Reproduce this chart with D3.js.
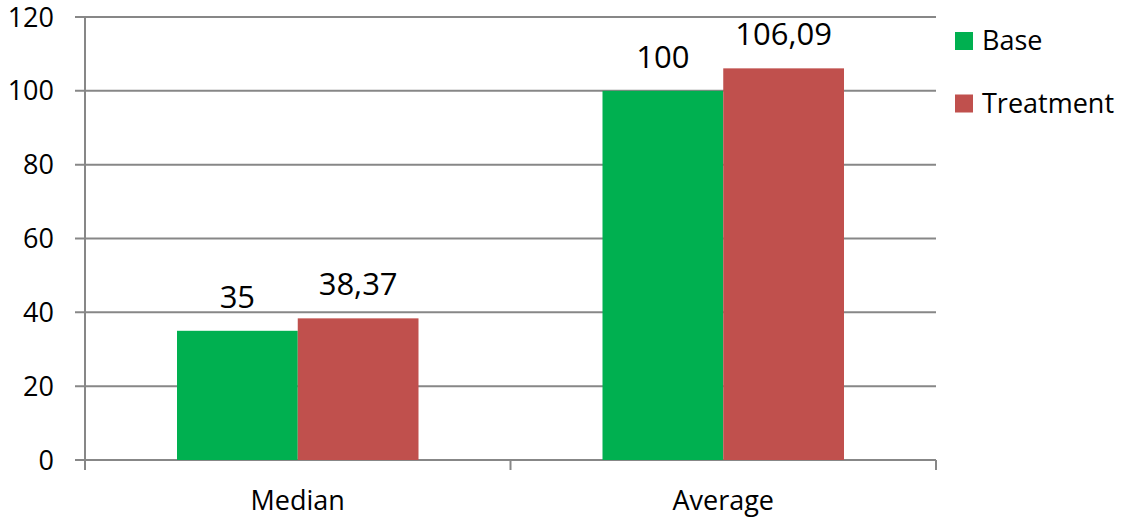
<!DOCTYPE html>
<html>
<head>
<meta charset="utf-8">
<script src="https://cdn.jsdelivr.net/npm/d3@7"></script>
<style>
  body { margin: 0; background: #fff; }
  svg text { font-family: "Open Sans", sans-serif; fill: #000; }
</style>
</head>
<body>
<svg id="chart" width="1125" height="518"></svg>
<script>
const categories = ['Median', 'Average'];
const seriesNames = ['Base', 'Treatment'];
const baseValues = [35, 100];
const treatmentValues = [38.37, 106.09];
const valueLabels = [['35', '100'], ['38,37', '106,09']];
const yTicks = [0, 20, 40, 60, 80, 100, 120];
const colors = ['#00B050', '#C0504D'];

const svg = d3.select('#chart');
const margin = { top: 17, right: 189, bottom: 58, left: 85 };
const width = 1125 - margin.left - margin.right;
const height = 518 - margin.top - margin.bottom;

const g = svg.append('g').attr('transform', `translate(${margin.left},${margin.top})`);

const x0 = d3.scaleBand().domain(categories).range([0, width]);
const x1 = d3.scaleBand().domain(seriesNames).range([92, x0.bandwidth() - 92]);
const y = d3.scaleLinear().domain([0, 120]).range([height, 0]);

// gridlines
g.selectAll('.grid')
  .data(yTicks)
  .enter()
  .append('line')
  .attr('x1', -10)
  .attr('x2', width)
  .attr('y1', (d) => y(d))
  .attr('y2', (d) => y(d))
  .attr('stroke', '#878787')
  .attr('stroke-width', 2);

g.selectAll('.ylab')
  .data(yTicks)
  .enter()
  .append('text')
  .attr('x', -31)
  .attr('y', (d) => y(d) + 9.6)
  .attr('text-anchor', 'end')
  .style('font-size', '27px')
  .text((d) => d);

const series = [baseValues, treatmentValues];
series.forEach((vals, s) => {
  const data = categories.map((c, i) => ({ c, v: vals[i], label: valueLabels[s][i] }));
  g.selectAll(`.bar${s}`)
    .data(data)
    .enter()
    .append('rect')
    .attr('x', (d) => x0(d.c) + x1(seriesNames[s]))
    .attr('y', (d) => y(d.v))
    .attr('width', x1.bandwidth())
    .attr('height', (d) => height - y(d.v))
    .attr('fill', colors[s]);

  g.selectAll(`.lab${s}`)
    .data(data)
    .enter()
    .append('text')
    .attr('x', (d) => x0(d.c) + x1(seriesNames[s]) + x1.bandwidth() / 2)
    .attr('y', (d) => y(d.v) - 23)
    .attr('text-anchor', 'middle')
    .style('font-size', '31px')
    .text((d) => d.label);
});

// axes lines
g.append('line')
  .attr('x1', 0).attr('x2', 0)
  .attr('y1', 0).attr('y2', height + 10)
  .attr('stroke', '#878787').attr('stroke-width', 2);

g.selectAll('.xtick')
  .data([0, 1, 2])
  .enter()
  .append('line')
  .attr('x1', (d) => d * x0.step())
  .attr('x2', (d) => d * x0.step())
  .attr('y1', height)
  .attr('y2', height + 10)
  .attr('stroke', '#878787')
  .attr('stroke-width', 2);

g.selectAll('.xlab')
  .data(categories)
  .enter()
  .append('text')
  .attr('x', (d) => x0(d) + x0.bandwidth() / 2)
  .attr('y', height + 50)
  .attr('text-anchor', 'middle')
  .style('font-size', '27px')
  .text((d) => d);

// legend
const legend = svg.append('g').attr('transform', 'translate(955,32)');
seriesNames.forEach((name, i) => {
  legend.append('rect')
    .attr('x', 0)
    .attr('y', i * 62.5)
    .attr('width', 18)
    .attr('height', 18)
    .attr('fill', colors[i]);
  legend.append('text')
    .attr('x', 27)
    .attr('y', i * 62.5 + 18)
    .style('font-size', '27px')
    .text(name);
});
</script>
</body>
</html>
